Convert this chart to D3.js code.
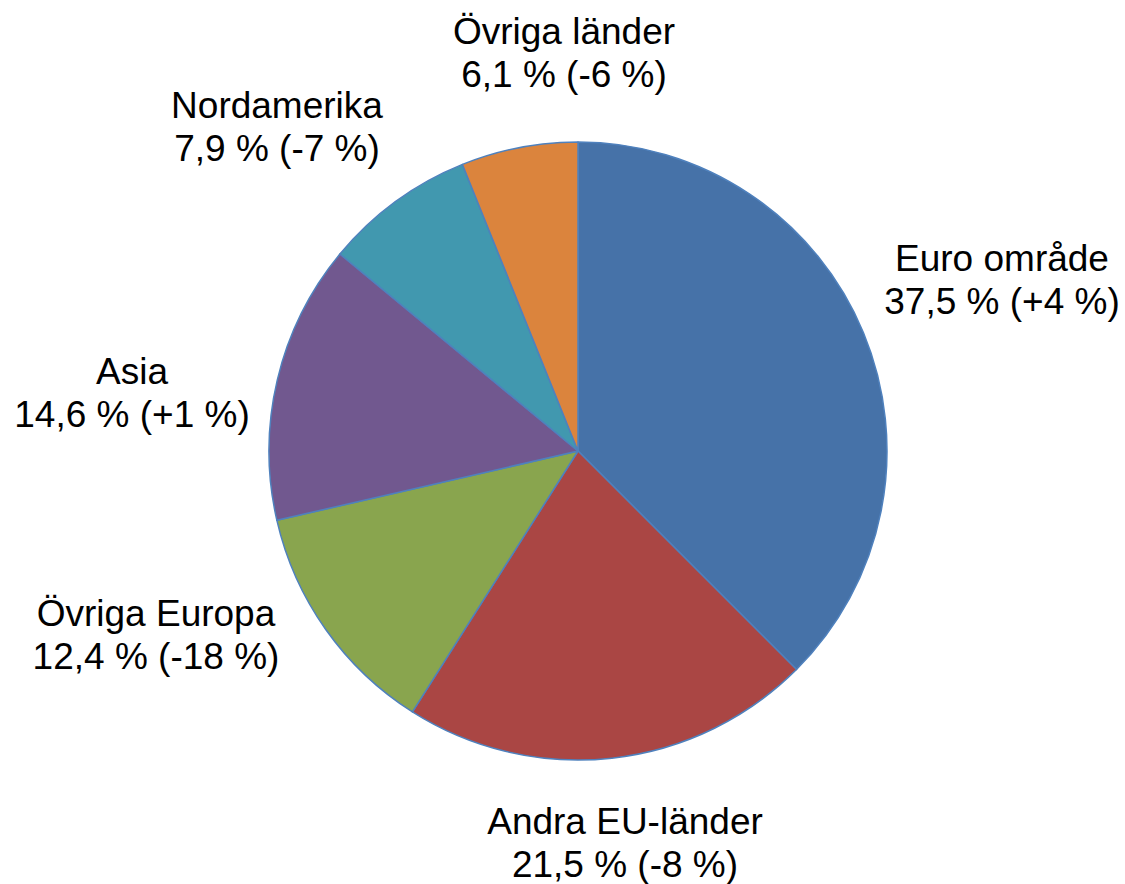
<!DOCTYPE html>
<html>
<head>
<meta charset="utf-8">
<script src="https://cdn.jsdelivr.net/npm/d3@7"></script>
<style>
  html, body { margin: 0; padding: 0; background: #fff; }
  svg { display: block; }
</style>
</head>
<body>
<svg id="chart" width="1125" height="884"></svg>
<script>
const categories = ["Euro område", "Andra EU-länder", "Övriga Europa", "Asia", "Nordamerika", "Övriga länder"];
const shares = [37.5, 21.5, 12.4, 14.6, 7.9, 6.1];
const changes = ["+4", "-8", "-18", "+1", "-7", "-6"];
const colors = ["#4672A8", "#AA4644", "#89A54E", "#71588F", "#4198AF", "#DB843D"];

const fmt = v => String(v).replace(".", ",");

const svg = d3.select("#chart");
const cx = 578, cy = 451, r = 309;

const data = categories.map((c, i) => ({ name: c, value: shares[i], change: changes[i], color: colors[i] }));

const pie = d3.pie().value(d => d.value).sort(null);
const arcs = pie(data);
const arc = d3.arc().innerRadius(0).outerRadius(r);

const g = svg.append("g").attr("transform", `translate(${cx},${cy})`);
g.selectAll("path").data(arcs).join("path")
  .attr("d", arc)
  .attr("fill", d => d.data.color)
  .attr("stroke", "#4F81BD")
  .attr("stroke-width", 1.5)
  .attr("stroke-linejoin", "round");

// label anchor positions (text centre x, first baseline y)
const labelPos = [
  [1002, 271],
  [625, 834],
  [156, 626],
  [132, 384],
  [277, 118],
  [564, 44]
];

const labels = svg.append("g")
  .attr("font-family", "Liberation Sans, Arial, sans-serif")
  .attr("font-size", 37)
  .attr("fill", "#000")
  .attr("text-anchor", "middle");

arcs.forEach((a, i) => {
  const [x, y] = labelPos[i];
  const t = labels.append("text").attr("x", x).attr("y", y);
  t.append("tspan").attr("x", x).attr("dy", 0).text(a.data.name);
  t.append("tspan").attr("x", x).attr("dy", 43)
    .text(`${fmt(a.data.value)} % (${a.data.change} %)`);
});
</script>
</body>
</html>
